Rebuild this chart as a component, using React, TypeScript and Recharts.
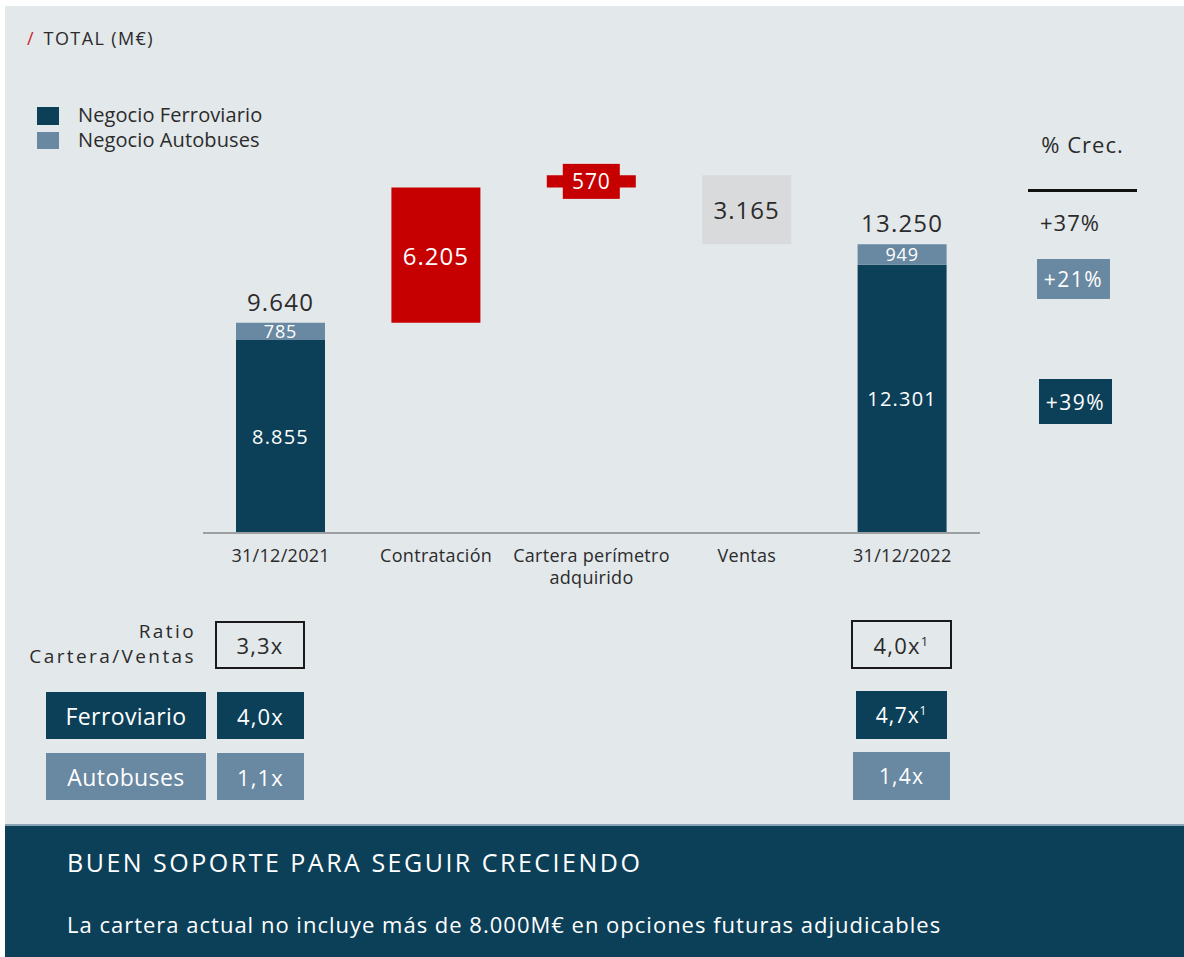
import { BarChart, Bar, XAxis, YAxis, Cell, LabelList } from 'recharts'

const CATEGORIAS = ['31/12/2021', 'Contratación', 'Cartera perímetro adquirido', 'Ventas', '31/12/2022']
const FERROVIARIO = [8855, 0, 0, 0, 12301]
const AUTOBUSES = [785, 0, 0, 0, 949]
const MOVIMIENTOS = [0, 6205, 570, -3165, 0]

const CRECIMIENTO = ['+37%', '+21%', '+39%']
const RATIO_2021 = ['3,3x', '4,0x', '1,1x']
const RATIO_2022 = ['4,0x', '4,7x', '1,4x']

const DARK = '#0c4059'
const LIGHT = '#6988a1'
const RED = '#c60000'
const GREY_BAR = '#d9dadb'
const BG = '#e3e8eb'
const TEXT = '#2b2b2b'
const FONT = '"Open Sans", Roboto, sans-serif'

const fmt = (n: number) => String(n).replace(/\B(?=(\d{3})+(?!\d))/g, '.')

// construir cascada: base invisible + movimiento
let running = 0
const rows = CATEGORIAS.map((name, i) => {
  const stack = FERROVIARIO[i] + AUTOBUSES[i]
  const mov = MOVIMIENTOS[i]
  let base = 0
  let delta = 0
  if (stack > 0) {
    running = stack
  } else {
    base = mov >= 0 ? running : running + mov
    delta = Math.abs(mov)
    running += mov
  }
  return { name, ferro: FERROVIARIO[i], auto: AUTOBUSES[i], base, delta, mov, total: stack }
})

// eslint-disable-next-line @typescript-eslint/no-explicit-any
const CategoryTick = ({ x, y, payload }: any) => {
  const v: string = payload.value
  const lines = v === 'Cartera perímetro adquirido' ? ['Cartera perímetro', 'adquirido'] : [v]
  return (
    <g>
      {lines.map((l, i) => (
        <text key={i} x={x} y={y + 21 + i * 22} textAnchor="middle" fill={TEXT} fontSize={18} letterSpacing={0.3}>
          {l}
        </text>
      ))}
    </g>
  )
}

// eslint-disable-next-line @typescript-eslint/no-explicit-any
const innerLabel = (size: number, spacing: number) => (props: any) => {
  const { x, y, width, height, value } = props
  if (!value) return null
  return (
    <text x={x + width / 2} y={y + height / 2} textAnchor="middle" dominantBaseline="central" fill="#fff" fontSize={size} letterSpacing={spacing}>
      {fmt(value)}
    </text>
  )
}

// eslint-disable-next-line @typescript-eslint/no-explicit-any
const TotalLabel = (props: any) => {
  const { x, y, width, value } = props
  const r = rows.find((d) => d.auto === value)
  if (!value || !r) return null
  return (
    <text x={x + width / 2} y={y - 12} textAnchor="middle" fill={TEXT} fontSize={24} letterSpacing={1.2}>
      {fmt(r.total)}
    </text>
  )
}

// eslint-disable-next-line @typescript-eslint/no-explicit-any
const DeltaLabel = (props: any) => {
  const { x, y, width, height, value } = props
  const r = rows.find((d) => d.delta === value)
  if (!value || !r) return null
  const cx = x + width / 2
  const cy = y + height / 2
  if (height < 20) {
    return (
      <g>
        <rect x={cx - 28.5} y={cy - 17.5} width={57} height={35} fill={RED} />
        <text x={cx} y={cy} textAnchor="middle" dominantBaseline="central" fill="#fff" fontSize={21} letterSpacing={0.8}>
          {fmt(r.delta)}
        </text>
      </g>
    )
  }
  return (
    <text x={cx} y={cy} textAnchor="middle" dominantBaseline="central" fill={r.mov > 0 ? '#fff' : TEXT} fontSize={24} letterSpacing={1}>
      {fmt(r.delta)}
    </text>
  )
}

const box = (left: number, top: number, width: number, height: number, bg: string, extra = {}) => ({
  position: 'absolute' as const,
  left,
  top,
  width,
  height,
  background: bg,
  color: '#fff',
  display: 'flex',
  alignItems: 'center',
  justifyContent: 'center',
  boxSizing: 'border-box' as const,
  letterSpacing: 1.2,
  ...extra,
})

export default function App() {
  return (
    <div style={{ position: 'absolute', left: 0, top: 0, width: 1184, height: 957, background: '#fff', fontFamily: FONT, overflow: 'hidden' }}>
      <div style={{ position: 'absolute', left: 5, top: 6, right: 0, bottom: 0, background: BG }} />

      {/* título */}
      <div style={{ position: 'absolute', left: 27, top: 26, fontSize: 18, color: TEXT }}>
        <span style={{ color: '#d2232a', marginRight: 10 }}>/</span>
        <span style={{ letterSpacing: 1.4 }}>TOTAL (M€)</span>
      </div>

      {/* leyenda */}
      <div style={{ position: 'absolute', left: 37, top: 107, width: 22, height: 18, background: DARK }} />
      <div style={{ position: 'absolute', left: 37, top: 132, width: 22, height: 17, background: LIGHT }} />
      <div style={{ position: 'absolute', left: 78, top: 101, fontSize: 20, color: TEXT, letterSpacing: 0.1 }}>Negocio Ferroviario</div>
      <div style={{ position: 'absolute', left: 78, top: 126, fontSize: 20, color: TEXT, letterSpacing: 0.1 }}>Negocio Autobuses</div>

      <div style={{ position: 'absolute', left: 0, top: 0 }}>
        <BarChart width={1184} height={620} data={rows} margin={{ top: 97, right: 204, left: 203, bottom: 27 }} barSize={89}>
          <XAxis dataKey="name" height={60} interval={0} tickLine={false} axisLine={{ stroke: '#9c9ea0', strokeWidth: 2 }} tick={<CategoryTick />} />
          <YAxis hide domain={[0, 20000]} />
          <Bar dataKey="ferro" stackId="a" fill={DARK} isAnimationActive={false}>
            <LabelList dataKey="ferro" content={innerLabel(20, 1.2)} />
          </Bar>
          <Bar dataKey="auto" stackId="a" fill={LIGHT} isAnimationActive={false}>
            <LabelList dataKey="auto" content={innerLabel(18, 0.8)} />
            <LabelList dataKey="auto" content={<TotalLabel />} />
          </Bar>
          <Bar dataKey="base" stackId="a" fill="transparent" isAnimationActive={false} />
          <Bar dataKey="delta" stackId="a" isAnimationActive={false}>
            {rows.map((r, i) => (
              <Cell key={i} fill={r.mov > 0 ? RED : GREY_BAR} />
            ))}
            <LabelList dataKey="delta" content={<DeltaLabel />} />
          </Bar>
        </BarChart>
      </div>

      {/* % crecimiento */}
      <div style={{ position: 'absolute', left: 1028, top: 129, width: 109, textAlign: 'center', fontSize: 22, color: TEXT, letterSpacing: 1 }}>% Crec.</div>
      <div style={{ position: 'absolute', left: 1028, top: 189, width: 109, height: 3, background: '#111' }} />
      <div style={{ position: 'absolute', left: 1040, top: 207, fontSize: 22, color: TEXT, letterSpacing: 1 }}>{CRECIMIENTO[0]}</div>
      <div style={box(1037, 259, 73, 40, LIGHT, { fontSize: 21, letterSpacing: 1.5 })}>{CRECIMIENTO[1]}</div>
      <div style={box(1039, 379, 73, 45, DARK, { fontSize: 21, letterSpacing: 1.5 })}>{CRECIMIENTO[2]}</div>

      {/* ratios */}
      <div style={{ position: 'absolute', left: 0, top: 619, width: 196, textAlign: 'right', fontSize: 19, lineHeight: '25px', color: TEXT, letterSpacing: 2.4 }}>
        Ratio
        <br />
        Cartera/Ventas
      </div>
      <div style={box(215, 621, 90, 48, 'transparent', { border: '2px solid #1a1a1a', color: TEXT, fontSize: 22 })}>{RATIO_2021[0]}</div>
      <div style={box(46, 692, 160, 47, DARK, { fontSize: 23, letterSpacing: 0.4 })}>Ferroviario</div>
      <div style={box(217, 692, 87, 47, DARK, { fontSize: 22 })}>{RATIO_2021[1]}</div>
      <div style={box(46, 753, 160, 47, LIGHT, { fontSize: 23, letterSpacing: 0.4 })}>Autobuses</div>
      <div style={box(217, 753, 87, 47, LIGHT, { fontSize: 22 })}>{RATIO_2021[2]}</div>

      <div style={box(851, 620, 101, 49, 'transparent', { border: '2px solid #1a1a1a', color: TEXT, fontSize: 22 })}>
        <span>{RATIO_2022[0]}<sup style={{ fontSize: 13 }}>1</sup></span>
      </div>
      <div style={box(856, 691, 91, 48, DARK, { fontSize: 21, letterSpacing: 0.8 })}>
        <span>{RATIO_2022[1]}<sup style={{ fontSize: 12 }}>1</sup></span>
      </div>
      <div style={box(853, 752, 97, 48, LIGHT, { fontSize: 21 })}>{RATIO_2022[2]}</div>

      {/* banda inferior */}
      <div style={{ position: 'absolute', left: 5, top: 824, right: 0, height: 2, background: '#8aa3b5' }} />
      <div style={{ position: 'absolute', left: 5, top: 826, right: 0, bottom: 0, background: DARK }} />
      <div style={{ position: 'absolute', left: 67, top: 845, fontSize: 25, color: '#fff', letterSpacing: 2.5 }}>BUEN SOPORTE PARA SEGUIR CRECIENDO</div>
      <div style={{ position: 'absolute', left: 67, top: 909, fontSize: 22, color: '#fff', letterSpacing: 1 }}>
        La cartera actual no incluye más de 8.000M€ en opciones futuras adjudicables
      </div>
    </div>
  )
}
